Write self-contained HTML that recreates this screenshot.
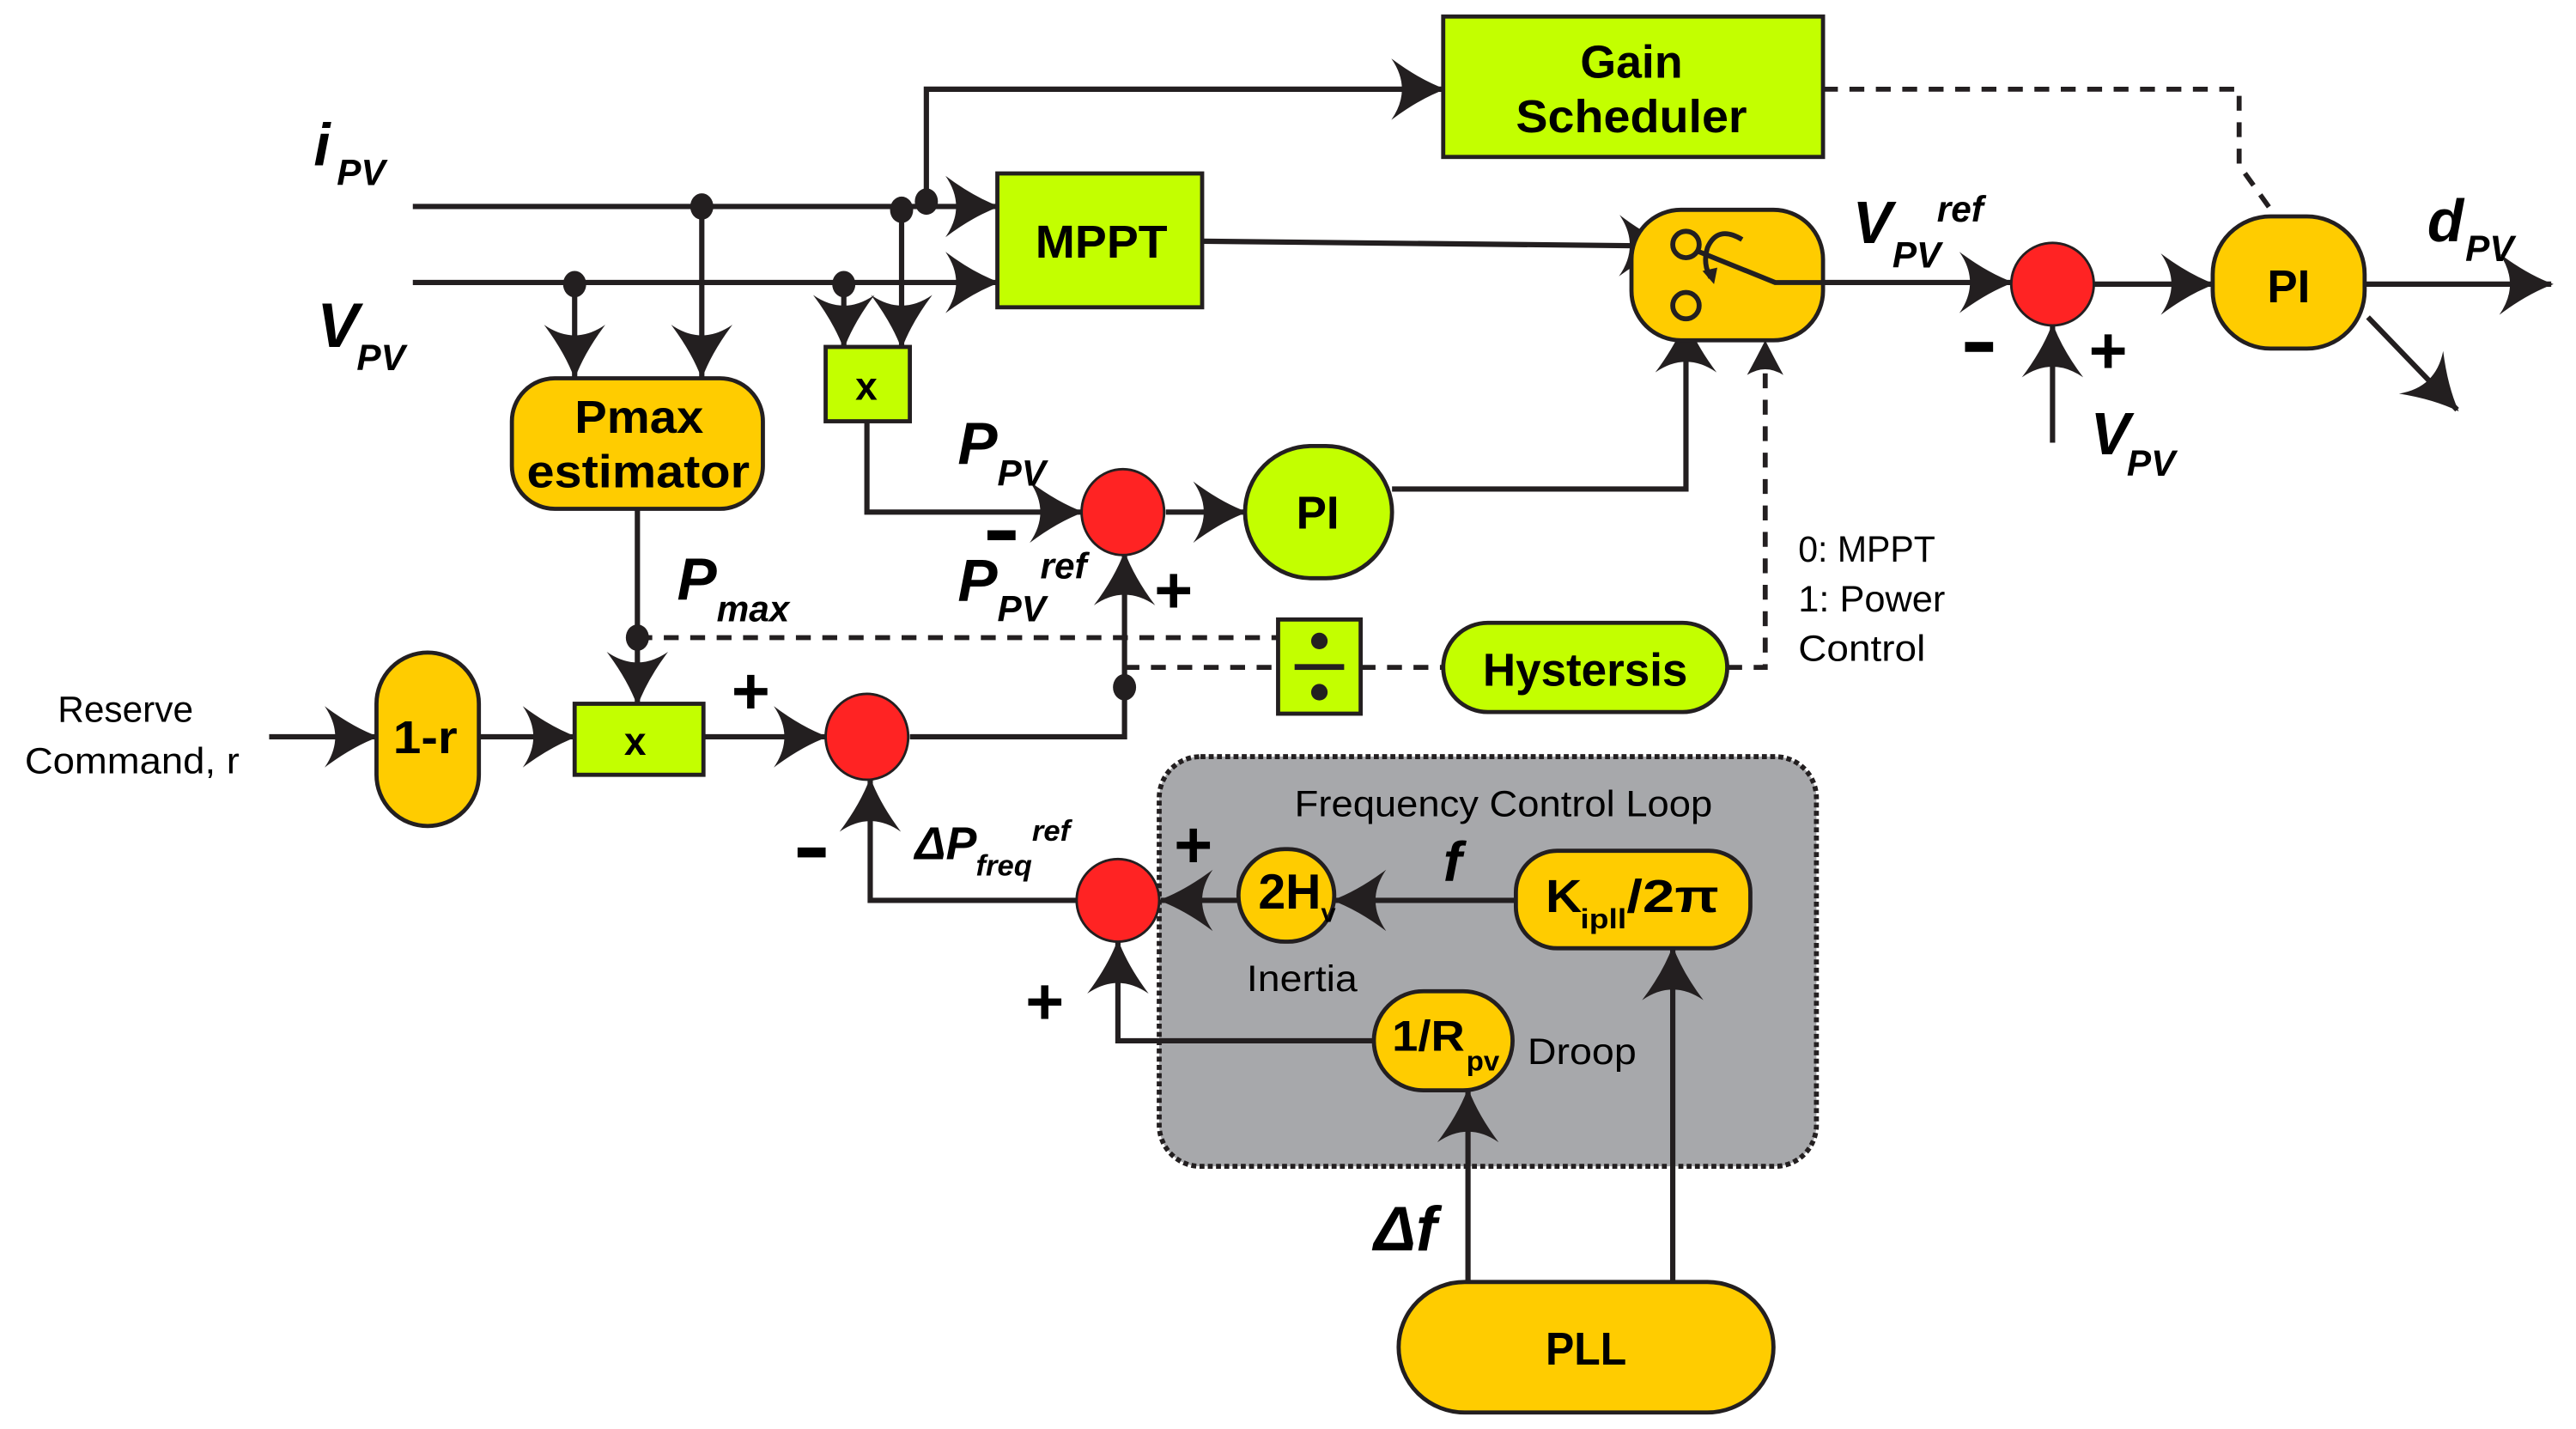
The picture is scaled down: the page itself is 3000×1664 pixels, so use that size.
<!DOCTYPE html>
<html><head><meta charset="utf-8"><style>
html,body{margin:0;padding:0;background:#fff;}
svg{display:block;}
text{font-family:"Liberation Sans Narrow","Liberation Sans",sans-serif;fill:#000;}
.b{font-weight:bold;}
.i{font-style:italic;font-weight:bold;}
.r{font-weight:normal;}
</style></head><body>
<svg width="3000" height="1664" viewBox="0 0 1560 865" preserveAspectRatio="none" xmlns="http://www.w3.org/2000/svg">
<defs>
<marker id="a" markerUnits="userSpaceOnUse" markerWidth="40" markerHeight="40" viewBox="-24 -14 26 28" refX="0" refY="0" orient="auto">
<path d="M1,0 Q-10,-4 -22,-13 Q-13,0 -22,13 Q-10,4 1,0Z" fill="#231f20"/>
</marker>
</defs>
<g stroke="#231f20" stroke-width="3.2" fill="none">
<line x1="250" y1="125" x2="604" y2="125" marker-end="url(#a)"/>
<line x1="250" y1="171" x2="604" y2="171" marker-end="url(#a)"/>
<polyline points="561,125 561,54 874,54" marker-end="url(#a)"/>
<line x1="348" y1="171" x2="348" y2="228" marker-end="url(#a)"/>
<line x1="425" y1="125" x2="425" y2="228" marker-end="url(#a)"/>
<line x1="511" y1="171" x2="511" y2="210" marker-end="url(#a)"/>
<line x1="546" y1="125" x2="546" y2="210" marker-end="url(#a)"/>
<polyline points="525,255 525,310 655,310" marker-end="url(#a)"/>
<line x1="706" y1="310" x2="754" y2="310" marker-end="url(#a)"/>
<polyline points="843,296 1021,296 1021,194" marker-end="url(#a)"/>
<line x1="728" y1="146" x2="1012" y2="149" marker-end="url(#a)"/>
<line x1="1104" y1="171" x2="1218" y2="171" marker-end="url(#a)"/>
<line x1="1268" y1="172" x2="1340" y2="172" marker-end="url(#a)"/>
<line x1="1243" y1="268" x2="1243" y2="197" marker-end="url(#a)"/>
<line x1="1432" y1="172" x2="1545" y2="172" marker-end="url(#a)"/>
<line x1="1434" y1="192" x2="1488" y2="248" marker-end="url(#a)"/>
<line x1="386" y1="308" x2="386" y2="426" marker-end="url(#a)"/>
<line x1="163" y1="446" x2="228" y2="446" marker-end="url(#a)"/>
<line x1="290" y1="446" x2="348" y2="446" marker-end="url(#a)"/>
<line x1="426" y1="446" x2="500" y2="446" marker-end="url(#a)"/>
<polyline points="551,446 681,446 681,335" marker-end="url(#a)"/>
<polyline points="652,545 527,545 527,472" marker-end="url(#a)"/>
</g>
<g stroke="#231f20" stroke-width="3" fill="none" stroke-dasharray="9,7">
<polyline points="1104,54 1356,54 1356,100 1376,128"/>
<line x1="386" y1="386" x2="774" y2="386"/>
<line x1="681" y1="404" x2="774" y2="404"/>
<line x1="824" y1="404" x2="874" y2="404"/>
<polyline points="1046,404 1069,404 1069,222"/>
</g>
<path d="M1069,206 Q1064,216 1058,227 Q1069,220 1080,227 Q1074,216 1069,206Z" fill="#231f20"/>
<g fill="#231f20">
<ellipse cx="425" cy="125" rx="7" ry="8"/><ellipse cx="546" cy="127" rx="7" ry="8"/><ellipse cx="561" cy="122" rx="7" ry="8"/>
<ellipse cx="348" cy="172" rx="7" ry="8"/><ellipse cx="511" cy="172" rx="7" ry="8"/>
<ellipse cx="386" cy="386" rx="7" ry="8"/><ellipse cx="681" cy="416" rx="7" ry="8"/>
</g>
<rect x="702" y="458" width="398" height="248" rx="25" fill="#a7a8ab" stroke="#231f20" stroke-width="3" stroke-dasharray="3,2"/>
<g stroke="#231f20" stroke-width="3.2" fill="none">
<line x1="750" y1="545" x2="703" y2="545" marker-end="url(#a)"/>
<line x1="918" y1="545" x2="808" y2="545" marker-end="url(#a)"/>
<polyline points="832,630 677,630 677,570" marker-end="url(#a)"/>
<line x1="889" y1="776" x2="889" y2="660" marker-end="url(#a)"/>
<line x1="1013" y1="776" x2="1013" y2="574" marker-end="url(#a)"/>
</g>
<g stroke="#231f20" stroke-width="2.5">
<rect x="604" y="105" width="124" height="81" fill="#c3ff00"/>
<rect x="874" y="10" width="230" height="85" fill="#c3ff00"/>
<rect x="310" y="229" width="152" height="79" rx="26" fill="#ffcc00"/>
<rect x="500" y="210" width="51" height="45" fill="#c3ff00"/>
<rect x="754" y="270" width="89" height="80" rx="40" fill="#c3ff00"/>
<rect x="988" y="127" width="116" height="79" rx="30" fill="#ffcc00"/>
<rect x="1340" y="131" width="92" height="80" rx="35" fill="#ffcc00"/>
<rect x="774" y="375" width="50" height="57" fill="#c3ff00"/>
<rect x="874" y="377" width="172" height="54" rx="27" fill="#c3ff00"/>
<rect x="228" y="395" width="62" height="105" rx="31" fill="#ffcc00"/>
<rect x="348" y="426" width="78" height="43" fill="#c3ff00"/>
<rect x="750" y="514" width="58" height="56" rx="28" fill="#ffcc00"/>
<rect x="918" y="515" width="142" height="59" rx="25" fill="#ffcc00"/>
<rect x="832" y="600" width="84" height="60" rx="30" fill="#ffcc00"/>
<rect x="847" y="776" width="227" height="79" rx="40" fill="#ffcc00"/>
</g>
<g fill="#ff2323" stroke="#231f20" stroke-width="1.5">
<ellipse cx="680" cy="310" rx="25" ry="26"/>
<ellipse cx="1243" cy="172" rx="25" ry="25"/>
<ellipse cx="525" cy="446" rx="25" ry="26"/>
<ellipse cx="677" cy="545" rx="25" ry="25"/>
</g>
<g stroke="#231f20" stroke-width="3" fill="none">
<circle cx="1021" cy="148" r="8"/><circle cx="1021" cy="185" r="8"/>
<polyline points="1028,152 1075,171 1104,171"/>
<path d="M1055,145 Q1040,136 1034,150 Q1031,160 1036,168"/>
</g>
<path d="M1031,164 L1038,172 L1040,162Z" fill="#231f20"/>
<g fill="#231f20"><circle cx="799" cy="388" r="5"/><circle cx="799" cy="419" r="5"/><rect x="784" y="402" width="30" height="3.5"/></g>
<g class="b" font-size="28" lengthAdjust="spacingAndGlyphs">
<text x="627" y="156" textLength="80" lengthAdjust="spacingAndGlyphs">MPPT</text>
<text x="957" y="47" textLength="62" lengthAdjust="spacingAndGlyphs">Gain</text>
<text x="918" y="80" textLength="140" lengthAdjust="spacingAndGlyphs">Scheduler</text>
<text x="348" y="262" textLength="78" lengthAdjust="spacingAndGlyphs">Pmax</text>
<text x="319" y="295" textLength="135" lengthAdjust="spacingAndGlyphs">estimator</text>
<text x="518" y="242" font-size="24">x</text>
<text x="785" y="320" textLength="26" lengthAdjust="spacingAndGlyphs">PI</text>
<text x="1373" y="183" textLength="26" lengthAdjust="spacingAndGlyphs">PI</text>
<text x="898" y="415" textLength="124" lengthAdjust="spacingAndGlyphs">Hystersis</text>
<text x="238" y="456" textLength="39" lengthAdjust="spacingAndGlyphs">1-r</text>
<text x="378" y="457" font-size="24">x</text>
<text x="936" y="826" textLength="49" lengthAdjust="spacingAndGlyphs">PLL</text>
</g>
<text class="b" x="762" y="550" font-size="30" textLength="38" lengthAdjust="spacingAndGlyphs">2H</text>
<text class="b" x="800" y="558" font-size="16">v</text>
<text class="b" x="936" y="552" font-size="28" textLength="22" lengthAdjust="spacingAndGlyphs">K</text>
<text class="b" x="957" y="562" font-size="17" textLength="28" lengthAdjust="spacingAndGlyphs">ipll</text>
<text class="b" x="985" y="552" font-size="28" textLength="56" lengthAdjust="spacingAndGlyphs">/2π</text>
<text class="b" x="843" y="636" font-size="26" textLength="44" lengthAdjust="spacingAndGlyphs">1/R</text>
<text class="b" x="888" y="648" font-size="17" textLength="20" lengthAdjust="spacingAndGlyphs">pv</text>
<g class="r" font-size="22">
<text x="1089" y="340" textLength="83" lengthAdjust="spacingAndGlyphs">0: MPPT</text>
<text x="1089" y="370" textLength="89" lengthAdjust="spacingAndGlyphs">1: Power</text>
<text x="1089" y="400" textLength="77" lengthAdjust="spacingAndGlyphs">Control</text>
<text x="784" y="494" textLength="253" lengthAdjust="spacingAndGlyphs">Frequency Control Loop</text>
<text x="755" y="600" textLength="67" lengthAdjust="spacingAndGlyphs">Inertia</text>
<text x="925" y="644" textLength="66" lengthAdjust="spacingAndGlyphs">Droop</text>
<text x="35" y="437" textLength="82" lengthAdjust="spacingAndGlyphs">Reserve</text>
<text x="15" y="468" textLength="130" lengthAdjust="spacingAndGlyphs">Command, r</text>
</g>
<g class="i">
<text x="190" y="100" font-size="36">i</text><text x="204" y="112" font-size="22">PV</text>
<text x="192" y="210" font-size="38">V</text><text x="216" y="224" font-size="22">PV</text>
<text x="580" y="281" font-size="36">P</text><text x="604" y="294" font-size="22">PV</text>
<text x="580" y="364" font-size="36">P</text><text x="604" y="376" font-size="22">PV</text><text x="630" y="350" font-size="22">ref</text>
<text x="410" y="363" font-size="36">P</text><text x="434" y="376" font-size="22">max</text>
<text x="1122" y="147" font-size="36">V</text><text x="1146" y="162" font-size="22">PV</text><text x="1173" y="134" font-size="22">ref</text>
<text x="1266" y="275" font-size="36">V</text><text x="1288" y="288" font-size="22">PV</text>
<text x="1470" y="146" font-size="36">d</text><text x="1493" y="158" font-size="22">PV</text>
<text x="554" y="520" font-size="28">ΔP</text><text x="591" y="530" font-size="18">freq</text><text x="625" y="509" font-size="18">ref</text>
<text x="874" y="533" font-size="34">f</text>
<text x="832" y="757" font-size="38">Δf</text>
</g>
<g class="b" font-size="40">
<text x="443" y="432">+</text>
<text x="699" y="371">+</text>
<text x="1265" y="226">+</text>
<text x="711" y="525">+</text>
<text x="621" y="620">+</text>
</g>
<g fill="#000">
<rect x="598" y="321" width="17" height="6"/>
<rect x="1190" y="207" width="17" height="6"/>
<rect x="483" y="513" width="17" height="6"/>
</g>
</svg>
</body></html>
